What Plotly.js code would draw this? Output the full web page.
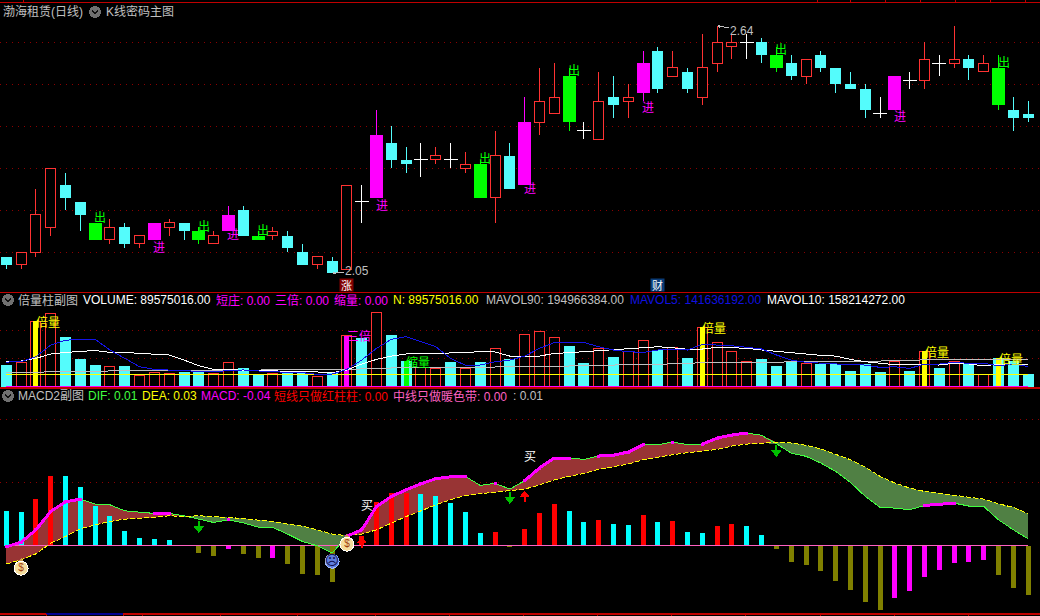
<!DOCTYPE html>
<html><head><meta charset="utf-8">
<script src="https://cdn.plot.ly/plotly-3.0.1.min.js"></script>
<style>
html,body{margin:0;padding:0;background:#000;overflow:hidden}
.main-svg path{shape-rendering:crispEdges}
</style></head><body><div id="chart" style="width:1040px;height:616px"></div>
<script>
const open_=[2.09,2.07,2.10,2.16,2.26,2.22,2.17,2.13,2.16,2.12,2.17,2.16,2.17,2.15,2.12,2.19,2.20,2.14,2.14,2.14,2.10,2.07,2.08,2.06,2.22,2.38,2.36,2.32,2.32,2.32,2.32,2.30,2.31,2.23,2.33,2.41,2.41,2.43,2.52,2.39,2.37,2.47,2.46,2.55,2.58,2.52,2.53,2.47,2.55,2.59,2.60,2.60,2.57,2.55,2.52,2.57,2.54,2.50,2.49,2.43,2.52,2.51,2.51,2.55,2.55,2.56,2.53,2.54,2.44,2.43];
const close_=[2.07,2.10,2.19,2.30,2.23,2.19,2.13,2.16,2.12,2.14,2.13,2.17,2.15,2.13,2.14,2.15,2.14,2.13,2.15,2.11,2.07,2.09,2.05,2.26,2.22,2.23,2.32,2.31,2.32,2.33,2.32,2.31,2.23,2.33,2.25,2.26,2.46,2.47,2.41,2.39,2.46,2.45,2.47,2.48,2.49,2.54,2.49,2.54,2.60,2.60,2.60,2.57,2.54,2.52,2.56,2.54,2.50,2.49,2.44,2.43,2.44,2.51,2.56,2.55,2.56,2.54,2.55,2.45,2.42,2.42];
const high_=[2.09,2.10,2.25,2.30,2.29,2.22,2.17,2.18,2.17,2.14,2.17,2.18,2.17,2.16,2.15,2.21,2.21,2.15,2.16,2.15,2.12,2.09,2.09,2.26,2.26,2.44,2.40,2.35,2.36,2.35,2.36,2.34,2.32,2.39,2.36,2.47,2.54,2.55,2.54,2.41,2.53,2.52,2.50,2.58,2.59,2.58,2.54,2.62,2.64,2.62,2.62,2.61,2.59,2.57,2.56,2.58,2.54,2.53,2.50,2.47,2.52,2.53,2.60,2.57,2.64,2.57,2.57,2.57,2.47,2.46];
const low_=[2.06,2.06,2.09,2.14,2.20,2.15,2.13,2.12,2.11,2.11,2.13,2.14,2.13,2.12,2.12,2.15,2.14,2.13,2.13,2.10,2.07,2.06,2.05,2.06,2.17,2.23,2.30,2.29,2.28,2.31,2.30,2.29,2.23,2.17,2.25,2.26,2.38,2.43,2.39,2.37,2.37,2.42,2.42,2.46,2.48,2.52,2.48,2.45,2.53,2.56,2.56,2.55,2.53,2.51,2.50,2.53,2.48,2.49,2.42,2.42,2.44,2.49,2.49,2.52,2.54,2.51,2.53,2.44,2.39,2.41];
const candleKind="CRRRCCGRCRMRCGRMCGRCCRCRWMCCWRWRGRCMRRGWRCRMCRCRRRWCGCRCCCCWMWRWRCRGCC";
const volume=[153,169,461,518,351,195,153,144,146,78,101,94,104,118,92,172,132,89,94,108,94,73,94,358,344,525,365,181,136,129,172,129,174,271,195,369,391,348,287,167,271,209,249,327,261,278,202,419,313,249,176,195,146,174,165,160,160,111,160,104,181,111,249,132,176,158,87,202,181,89.575];
const volumeKind="CRRRCCCRCRRRCCRRCCRCCRCRCRCCRRCRCRCRRRCCRCRRCRCRRRRCCCRCCCCCRCRCRCRCCC";
const mavol90=[99,99,99,108,108,108,111,111,111,113,113,115,115,115,118,118,118,118,118,120,120,120,120,122,127,129,132,134,134,134,136,136,139,139,141,141,144,144,146,151,151,153,155,155,158,160,167,169,172,174,174,174,174,176,176,176,176,179,181,183,183,183,191,193,193,193,193,193,194,195];
const mavol5=[174,176,212,294,329,334,334,259,200,141,122,118,113,106,104,115,118,111,104,101,99,87,89,122,188,271,334,353,318,282,200,151,153,176,188,216,271,311,313,313,282,259,247,242,259,266,259,299,294,289,278,266,224,188,172,165,160,155,153,136,141,129,160,160,172,165,165,148,160,141.6];
const mavol10=[181,181,200,231,242,247,256,242,242,235,232,224,188,148,122,120,119,115,115,110,106,104,99,118,160,193,216,231,231,233,235,242,247,245,216,212,216,235,240,247,256,266,271,278,282,275,264,266,278,275,271,259,249,242,228,221,216,193,176,165,155,155,155,153,165,160,148,158,158,158.2];
const volN=volume.map(()=>89.575);
const volZero=volume.map(()=>0);
const volDouble=[2,47,62,67], volTriple=[23], volShrink=[27];
const dif=[-.0013,.0032,.0149,.0324,.0416,.0441,.0394,.0387,.0330,.0314,.0305,.0305,.0283,.0251,.0219,.0244,.0216,.0175,.0171,.0108,.0038,-.0003,-.0073,.0089,.0149,.0371,.0467,.0530,.0587,.0635,.0654,.0657,.0572,.0591,.0537,.0616,.0737,.0832,.0832,.0819,.0851,.0860,.0889,.0959,.0959,.0984,.0959,.0965,.1022,.1051,.1070,.1048,.0968,.0879,.0848,.0784,.0705,.0600,.0467,.0362,.0356,.0340,.0381,.0391,.0403,.0375,.0371,.0244,.0149,.0064];
const dea=[-.0175,-.0137,-.0079,.0022,.0086,.0159,.0197,.0229,.0251,.0257,.0267,.0283,.0276,.0283,.0276,.0264,.0257,.0241,.0229,.0203,.0184,.0149,.0108,.0095,.0108,.0149,.0213,.0276,.0330,.0387,.0435,.0476,.0492,.0508,.0524,.0537,.0575,.0625,.0657,.0686,.0724,.0746,.0775,.0816,.0841,.0864,.0883,.0895,.0914,.0946,.0965,.0972,.0984,.0975,.0953,.0918,.0864,.0816,.0746,.0657,.0594,.0546,.0514,.0495,.0483,.0460,.0441,.0397,.0362,.0302];
const macd=[.0327,.0318,.0441,.0660,.0660,.0556,.0375,.0279,.0137,.0070,.0060,.0051,.0003,-.0073,-.0102,-.0035,-.0083,-.0121,-.0121,-.0178,-.0273,-.0283,-.0349,-.0010,.0095,.0413,.0495,.0495,.0489,.0470,.0403,.0318,.0117,.0127,-.0013,.0156,.0308,.0394,.0327,.0222,.0241,.0203,.0194,.0289,.0222,.0232,.0127,.0117,.0184,.0203,.0184,.0098,-.0035,-.0159,-.0187,-.0244,-.0340,-.0425,-.0540,-.0616,-.0502,-.0435,-.0302,-.0235,-.0168,-.0159,-.0140,-.0283,-.0406,-.0473];
const macdKind="CCRRCCCCCCCCCOOMOOMOOOOORRRRCCCCCRORRRCCRCCRCRCCRRCCOOOOOOOOMMMMMMMOOO";
const difHot=[0,1,2,3,4,5,10,11,15,23,24,25,26,27,28,29,30,31,33,35,36,37,38,40,41,42,43,45,47,48,49,50,62,63,64];
const outIdx=[6,13,17,32,38,52,67];
const outPrice=[2.185,2.165,2.155,2.325,2.535,2.585,2.555];
const inIdx=[10,15,25,35,43,60];
const inPrice=[2.115,2.145,2.215,2.255,2.447,2.425];
const buyIdx=[24,35], buyVal=[.0387,.0857];
const downIdx=[13,34,52], downVal=[.0117,.0394,.0841];
const upIdx=[24,35], upVal=[.0086,.0524];
const bagIdx=[1,23], bagVal=[-.0216,.0012];
const sadIdx=[22], sadVal=[-.0150];
const header1=[["渤海租赁(日线)","#c0c0c0",1,12],["K线密码主图","#c0c0c0",104,12]];
const header2=[["倍量柱副图","#c0c0c0",16],["VOLUME: 89575016.00","#ffffff",81],["短庄: 0.00","#ff00ff",214],["三倍: 0.00","#ff00ff",273],["缩量: 0.00","#ff00ff",332],["N: 89575016.00","#ffff00",391],["MAVOL90: 194966384.00","#c0c0c0",484],["MAVOL5: 141636192.00","#1010e0",628],["MAVOL10: 158214272.00","#ffffff",765]];
const header3=[["MACD2副图","#c0c0c0",16],["DIF: 0.01","#40ff40",86],["DEA: 0.03","#ffff00",140],["MACD: -0.04","#ff00ff",199],["短线只做红柱柱: 0.00","#ff0000",272],["中线只做暖色带: 0.00","#ff60c0",391],[": 0.01","#c0c0c0",511]];
const topTicks=[23,817,850,885,920,955,990,1025];
const bottomTicks=[46,123,142,220,297,375,449,523,597,671,745,820,894,968];

const FONT='"Liberation Sans","Noto Sans CJK SC",sans-serif';
const CJK='"Noto Sans CJK SC",sans-serif';
const idx=open_.map((_,i)=>i);
const PX=14.81, X0=6.3;
const col={R:'#ff3232',C:'#54fcfc',G:'#00ff00',M:'#ff00ff',W:'#ffffff'};
const macdCol={R:'#ff0000',C:'#00ffff',O:'#808000',M:'#ff00ff'};
const xr=[(0-X0)/PX,(1040-X0)/PX];
const dom=(a,b)=>[1-b/616,1-a/616];
const rangeP=[2.6-(292.5-42.3)/420,2.6+(42.3-2.3)/420];
const rangeV=[(386.7-388)/0.14167,(386.7-292.5)/0.14167];
const rangeM=[(545.3-613.7)/1050,(545.3-388)/1050];

const traces=[];
const base={hoverinfo:'skip',showlegend:false,xaxis:'x'};
/* candle wicks */
['R','C','G','M','W'].forEach(k=>{
  const x=[],y=[];
  idx.forEach(i=>{ if(candleKind[i]!==k) return;
    const t=Math.max(open_[i],close_[i]), b=Math.min(open_[i],close_[i]);
    if(high_[i]>t){x.push(i,i,null);y.push(t,high_[i],null);}
    if(low_[i]<b){x.push(i,i,null);y.push(b,low_[i],null);}
  });
  traces.push(Object.assign({type:'scatter',mode:'lines',x,y,line:{color:col[k],width:1},yaxis:'y'},base));
});
/* candle bodies */
const bodyI=idx.filter(i=>candleKind[i]!=='W');
traces.push(Object.assign({type:'bar',x:bodyI,base:bodyI.map(i=>Math.min(open_[i],close_[i])),y:bodyI.map(i=>Math.abs(open_[i]-close_[i])),
  width:bodyI.map(i=>candleKind[i]==='R'?10/PX:(candleKind[i]==='C'?11/PX:13/PX)),
  marker:{color:bodyI.map(i=>candleKind[i]==='R'?'#000':col[candleKind[i]]),line:{color:bodyI.map(i=>col[candleKind[i]]),width:bodyI.map(i=>candleKind[i]==='R'?1:0)}},
  yaxis:'y'},base));
const dojiI=idx.filter(i=>candleKind[i]==='W');
traces.push(Object.assign({type:'scatter',mode:'markers',x:dojiI,y:dojiI.map(i=>close_[i]),marker:{symbol:'line-ew',size:10,line:{color:'#fff',width:1}},yaxis:'y'},base));
/* volume */
traces.push(Object.assign({type:'bar',x:idx,y:volume,width:idx.map(i=>volumeKind[i]==='R'?10/PX:11/PX),
  marker:{color:idx.map(i=>volumeKind[i]==='R'?'#000':col.C),line:{color:col.R,width:idx.map(i=>volumeKind[i]==='R'?1:0)}},
  yaxis:'y2'},base));
[[volDouble,'#ffff00'],[volTriple,'#ff00ff'],[volShrink,'#00ff00']].forEach(([a,c])=>{
  traces.push(Object.assign({type:'bar',x:a,y:a.map(i=>volume[i]),width:5/PX,marker:{color:c},yaxis:'y2'},base));
});
[[mavol90,'#c0c0c0'],[volN,'#ffff00'],[mavol10,'#ffffff'],[mavol5,'#1414e6'],[volZero,'#ff00ff']].forEach(([a,c])=>{
  traces.push(Object.assign({type:'scatter',mode:'lines',x:idx,y:a,line:{color:c,width:1},yaxis:'y2'},base));
});
/* macd band */
const hi=dif.map((d,i)=>Math.max(d,dea[i])), lo=dif.map((d,i)=>Math.min(d,dea[i]));
const band=(arr,fc)=>{
  traces.push(Object.assign({type:'scatter',mode:'lines',x:idx,y:dea,line:{width:0},yaxis:'y3'},base));
  traces.push(Object.assign({type:'scatter',mode:'lines',x:idx,y:arr,line:{width:0},fill:'tonexty',fillcolor:fc,yaxis:'y3'},base));
};
band(hi,'#983434'); band(lo,'#508044');
traces.push(Object.assign({type:'bar',x:idx,y:macd,width:5/PX,marker:{color:idx.map(i=>macdCol[macdKind[i]])},yaxis:'y4'},base));
traces.push(Object.assign({type:'scatter',mode:'lines',x:idx,y:volZero,line:{color:'#ff60c0',width:1},yaxis:'y5'},base));
traces.push(Object.assign({type:'scatter',mode:'lines',x:idx,y:dif,line:{color:'#40ff40',width:1},yaxis:'y5'},base));
traces.push(Object.assign({type:'scatter',mode:'lines',x:idx,y:dea,line:{color:'#ffff00',width:1,dash:'5px,2px'},yaxis:'y5'},base));
traces.push(Object.assign({type:'scatter',mode:'lines+markers',x:idx,y:idx.map(i=>difHot.includes(i)?dif[i]:null),line:{color:'#ff00ff',width:3},marker:{color:'#ff00ff',size:3,symbol:'square'},connectgaps:false,yaxis:'y5'},base));
/* signal arrows: tip value given, shaft and head hang from it */
const UNIT=1/1050;
const sig=(list,vals,dir,c)=>{
  const x=[],y=[];
  list.forEach((i,n)=>{x.push(i,i,null);y.push(vals[n]+dir*4*UNIT,vals[n]+dir*12*UNIT,null);});
  traces.push(Object.assign({type:'scatter',mode:'lines',x,y,line:{color:c,width:2},yaxis:'y5'},base));
  traces.push(Object.assign({type:'scatter',mode:'markers',x:list,y:vals.map(v=>v+dir*4.5*UNIT),marker:{symbol:dir>0?'triangle-down':'triangle-up',size:9,color:c},yaxis:'y5'},base));
};
sig(downIdx,downVal,1,'#00c000');
sig(upIdx,upVal,-1,'#ff0000');
/* money bag and face markers */
traces.push(Object.assign({type:'scatter',mode:'markers',x:bagIdx,y:bagVal.map(v=>v+.0066),marker:{symbol:'triangle-up',size:7,color:'#c89a50'},yaxis:'y5'},base));
traces.push(Object.assign({type:'scatter',mode:'markers+text',x:bagIdx,y:bagVal,text:bagIdx.map(()=>'$'),textfont:{color:'#a04010',size:10,family:FONT},textposition:'middle center',marker:{size:14,color:'#f4dc9c',line:{color:'#fff',width:1}},yaxis:'y5'},base));
traces.push(Object.assign({type:'scatter',mode:'markers+text',x:sadIdx,y:sadVal,text:['☹'],textfont:{color:'#101050',size:14,family:'DejaVu Sans'},textposition:'middle center',marker:{size:14,color:'#6080e0',line:{color:'#a0b8ff',width:1}},yaxis:'y5'},base));

const ann=[];
const put=(text,x,y,color)=>ann.push({text,x,y,xref:'paper',yref:'paper',xanchor:'left',yanchor:'middle',showarrow:false,font:{color,size:12,family:FONT}});
header1.forEach(h=>put(h[0],h[2]/1040,1-h[3]/616,h[1]));
header2.forEach(h=>put(h[0],h[2]/1040,1-300/616,h[1]));
header3.forEach(h=>put(h[0],h[2]/1040,1-396/616,h[1]));
const lbl=(text,x,y,yref,color,xshift)=>ann.push({text,x,y,xref:'x',yref,showarrow:false,xshift:xshift||0,font:{color,size:12,family:CJK}});
outIdx.forEach((i,n)=>lbl('出',i,outPrice[n],'y','#00ff00',5));
inIdx.forEach((i,n)=>lbl('进',i,inPrice[n],'y','#ff00ff',5));
volDouble.forEach(i=>lbl('倍量',i,volume[i],'y2','#ffff00',12));
volTriple.forEach(i=>lbl('三倍',i,volume[i],'y2','#ff00ff',12));
volShrink.forEach(i=>lbl('缩量',i,volume[i],'y2','#00ff00',12));
buyIdx.forEach((i,n)=>lbl('买',i,buyVal[n],'y3','#ffffff',5));
/* price extremes */
ann.push({x:22,y:2.05,xref:'x',yref:'y',text:'2.05',ax:25,ay:-2,height:10,showarrow:true,arrowhead:2,arrowsize:.6,arrowwidth:1,arrowcolor:'#c0c0c0',font:{color:'#c0c0c0',size:12,family:FONT}});
ann.push({x:48,y:2.64,xref:'x',yref:'y',text:'2.64',ax:25,ay:5,height:10,showarrow:true,arrowhead:2,arrowsize:.6,arrowwidth:1,arrowcolor:'#c0c0c0',font:{color:'#c0c0c0',size:12,family:FONT}});
/* badges */
ann.push({x:23,y:2.022,xref:'x',yref:'y',text:'涨',width:13,height:12,showarrow:false,bgcolor:'#800000',borderpad:0,font:{color:'#fff',size:11,family:CJK}});
ann.push({x:44,y:2.022,xref:'x',yref:'y',text:'财',width:13,height:12,showarrow:false,bgcolor:'#0a3c78',borderpad:0,font:{color:'#fff',size:11,family:CJK}});

const shapes=[];
const hline=(y,c,w,x0,x1)=>shapes.push({type:'line',xref:'paper',yref:'paper',x0:(x0||0)/1040,x1:(x1===undefined?1040:x1)/1040,y0:1-y/616,y1:1-y/616,line:{color:c,width:w}});
[2.5,292.5,388,614].forEach(y=>hline(y,'#c00000',1.4));
hline(614,'#000090',1.4,46,123);
const tick=(x,a,b)=>shapes.push({type:'line',xref:'paper',yref:'paper',x0:x/1040,x1:x/1040,y0:1-a/616,y1:1-b/616,line:{color:'#c00000',width:1}});
topTicks.forEach(x=>tick(x,0,2));
bottomTicks.forEach(x=>tick(x,614,616));
[[95,12],[8,300],[8,396]].forEach(([cx,cy])=>{
  const X=v=>v/1040, Y=v=>1-v/616;
  shapes.push({type:'circle',xref:'paper',yref:'paper',x0:X(cx-6),x1:X(cx+6),y0:Y(cy+6),y1:Y(cy-6),fillcolor:'#707070',line:{width:0}});
  shapes.push({type:'path',xref:'paper',yref:'paper',path:`M ${X(cx-3)} ${Y(cy-1.5)} L ${X(cx)} ${Y(cy+1.5)} L ${X(cx+3)} ${Y(cy-1.5)}`,line:{color:'#101010',width:1.5}});
});

const hidden={showticklabels:false,ticks:'',zeroline:false,showline:false};
const grid={showgrid:true,gridcolor:'#8c0000',griddash:'1px,5px',gridwidth:1};
const layout={
  width:1040,height:616,margin:{l:0,r:0,t:0,b:0,pad:0},paper_bgcolor:'#000',plot_bgcolor:'#000',showlegend:false,
  barmode:'overlay',dragmode:false,
  xaxis:Object.assign({range:xr,showgrid:false,domain:[0,1],fixedrange:true},hidden),
  yaxis:Object.assign({domain:dom(2.5,292.5),range:rangeP,tickmode:'array',tickvals:[2.1,2.2,2.3,2.4,2.5,2.6],anchor:'x'},hidden,grid),
  yaxis2:Object.assign({domain:dom(292.5,388),range:rangeV,tickmode:'array',tickvals:[200,400],anchor:'x'},hidden,grid),
  yaxis3:Object.assign({domain:dom(388,614),range:rangeM,tickmode:'array',tickvals:[.06,.12],anchor:'x'},hidden,grid),
  yaxis4:Object.assign({overlaying:'y3',range:rangeM,showgrid:false,anchor:'x'},hidden),
  yaxis5:Object.assign({overlaying:'y3',range:rangeM,showgrid:false,anchor:'x'},hidden),
  annotations:ann,shapes
};
Plotly.newPlot('chart',traces,layout,{staticPlot:true,displayModeBar:false});
</script></body></html>
